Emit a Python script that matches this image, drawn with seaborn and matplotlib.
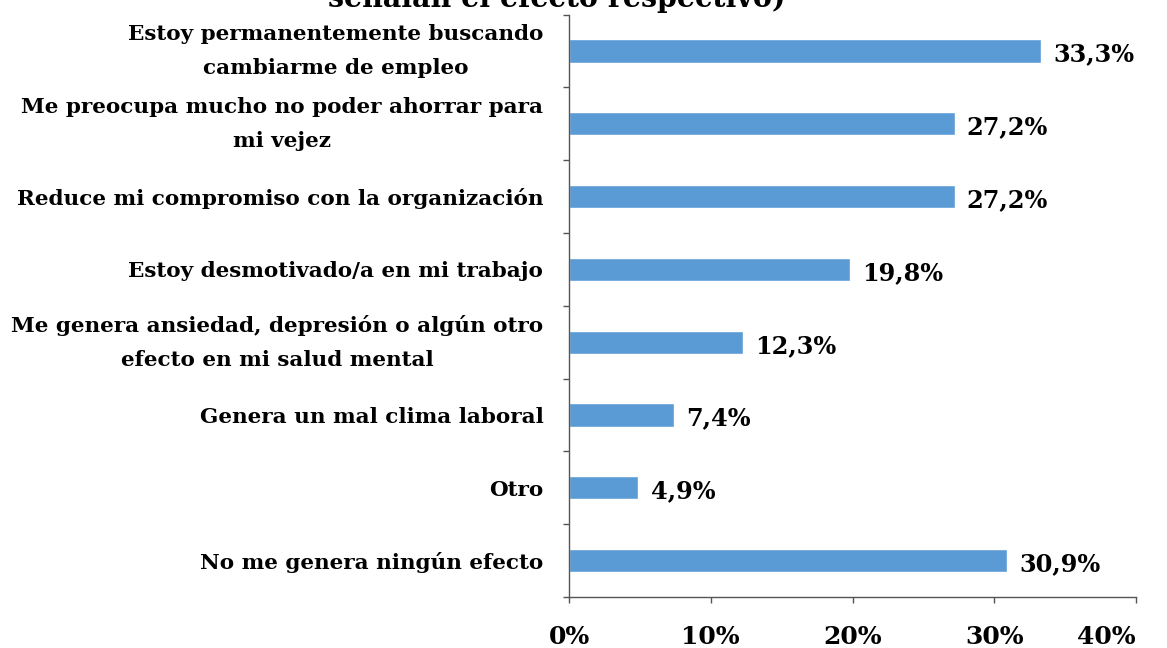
import matplotlib
matplotlib.use("Agg")
import matplotlib.pyplot as plt
import seaborn as sns
import pandas as pd
from matplotlib.ticker import FuncFormatter, FixedLocator
from matplotlib.font_manager import FontProperties
from matplotlib.textpath import TextPath

categories = [
    "Estoy permanentemente buscando\ncambiarme de empleo",
    "Me preocupa mucho no poder ahorrar para\nmi vejez",
    "Reduce mi compromiso con la organización",
    "Estoy desmotivado/a en mi trabajo",
    "Me genera ansiedad, depresión o algún otro\nefecto en mi salud mental",
    "Genera un mal clima laboral",
    "Otro",
    "No me genera ningún efecto",
]
values = [33.3, 27.2, 27.2, 19.8, 12.3, 7.4, 4.9, 30.9]
value_labels = ["33,3%", "27,2%", "27,2%", "19,8%", "12,3%", "7,4%", "4,9%", "30,9%"]
xticks = [0, 10, 20, 30, 40]
title_tail = "señalan el efecto respectivo)"

sns.set_theme(style="white")
FAMILY = ["DejaVu Serif"]
plt.rcParams["font.family"] = FAMILY
plt.rcParams["font.weight"] = "bold"

DPI = 100
fp = FontProperties(family=FAMILY, weight="bold")


def fit_pt(text, target_px):
    """font size (pt) that makes text about target_px wide"""
    w = TextPath((0, 0), text, size=100, prop=fp).get_extents().width
    return target_px * 100 * 72 / (w * DPI)


lab_pt = fit_pt("Reduce mi compromiso con la organización", 524)
val_pt = fit_pt("33,3%", 79)
xt_pt = fit_pt("40%", 57)
title_pt = fit_pt(title_tail, 455)

df = pd.DataFrame({"cat": categories, "val": values})

fig = plt.figure(figsize=(11.67, 6.48), dpi=DPI)
ax = fig.add_axes([569 / 1167, 1 - 597 / 648, (1136 - 569) / 1167, (597 - 14.6) / 648])

sns.barplot(data=df, x="val", y="cat", orient="h", color="#5B9BD5",
            saturation=1, width=0.32, ax=ax)

ax.set_xlim(0, 40)
ax.set_ylim(len(categories) - 0.5, -0.5)
ax.set_xlabel("")
ax.set_ylabel("")

ax.xaxis.set_major_locator(FixedLocator(xticks))
ax.xaxis.set_major_formatter(FuncFormatter(lambda v, p: f"{int(v)}%"))
ax.tick_params(axis="x", direction="out", length=4.5, width=1, color="#555555",
               pad=16, labelsize=xt_pt, labelcolor="black", bottom=True)

ax.set_yticks([i for i in range(len(categories))])
ax.set_yticklabels(categories, fontsize=lab_pt, color="black")
for t in ax.get_yticklabels():
    t.set_multialignment("center")
    t.set_linespacing(1.85)
    if "\n" in t.get_text():
        t.set_verticalalignment("center")
ax.tick_params(axis="y", length=0, pad=18.5)
ax.set_yticks([i - 0.5 for i in range(len(categories) + 1)], minor=True)
ax.tick_params(axis="y", which="minor", direction="out", length=4.5, width=1,
               color="#555555", left=True)

for s in ["top", "right"]:
    ax.spines[s].set_visible(False)
for s in ["left", "bottom"]:
    ax.spines[s].set_color("#555555")
    ax.spines[s].set_linewidth(1)

for i, (v, lab) in enumerate(zip(values, value_labels)):
    ax.text(v + 0.85, i + 0.05, lab, va="center", ha="left", fontsize=val_pt,
            color="black")

fig.canvas.draw()
xt_labels = ax.get_xticklabels()
xt_labels[-1].set_horizontalalignment("right")

fig.text(557 / 1167, 1 - 7 / 648, title_tail, ha="center", va="baseline",
         fontsize=title_pt, color="black")

fig.savefig("out.png", dpi=DPI)
